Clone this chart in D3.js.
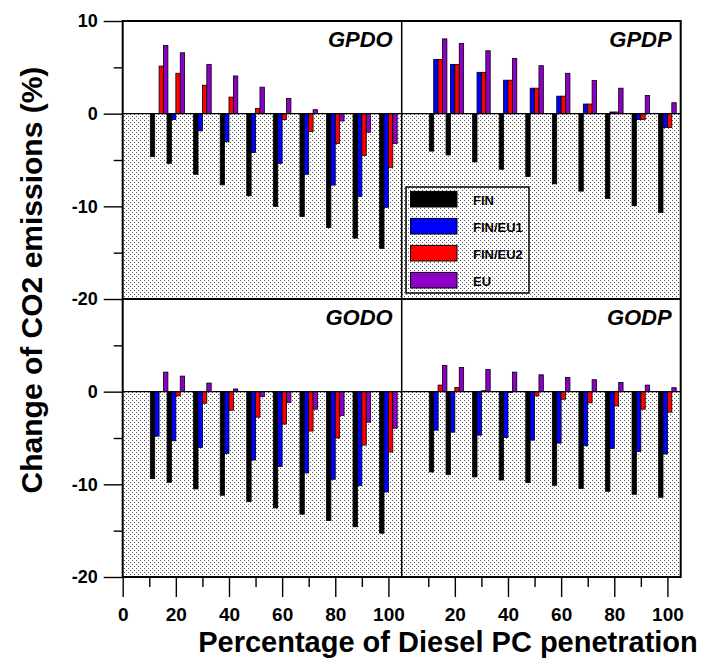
<html>
<head>
    <meta charset="utf-8">
    <script src="https://cdn.jsdelivr.net/npm/d3@7/dist/d3.min.js" type="text/javascript"></script>
    <style>
        body { margin: 0; background: #fff; }
        text { font-family: Arial, "Liberation Sans", Helvetica, sans-serif; font-weight: bold; }
    </style>
</head>
<body>
    <svg id="CANVAS" width="701" height="660"></svg>
    <script>

        // penetration levels (x) and series
        var X_VALUES = [13.7, 20, 30, 40, 50, 60, 70, 80, 90, 100];
        var SERIES = ["FIN", "FIN/EU1", "FIN/EU2", "EU"];
        var COLORS = ["#000000", "#0000ff", "#ff0000", "#8c00c8"];

        // GPDO
        var GPDO_FIN = [-4.64, -5.36, -6.54, -7.68, -8.86, -10.0, -11.1, -12.3, -13.43, -14.54];
        var GPDO_EU1 = [0, -0.64, -1.86, -3.04, -4.2, -5.36, -6.54, -7.71, -8.93, -10.11];
        var GPDO_EU2 = [5.14, 4.36, 3.07, 1.79, 0.57, -0.64, -1.93, -3.21, -4.5, -5.79];
        var GPDO_EU = [7.36, 6.57, 5.32, 4.07, 2.86, 1.64, 0.43, -0.79, -2.0, -3.21];
        // GPDP
        var GPDP_FIN = [-4.04, -4.46, -5.21, -6.0, -6.79, -7.57, -8.36, -9.14, -9.93, -10.68];
        var GPDP_EU1 = [5.86, 5.32, 4.46, 3.61, 2.75, 1.89, 1.04, 0.18, -0.64, -1.5];
        var GPDP_EU2 = [5.86, 5.32, 4.46, 3.61, 2.75, 1.89, 1.04, 0.18, -0.64, -1.5];
        var GPDP_EU = [8.07, 7.57, 6.79, 5.96, 5.18, 4.36, 3.57, 2.75, 1.96, 1.18];
        // GODO
        var GODO_FIN = [-9.39, -9.78, -10.5, -11.18, -11.86, -12.54, -13.22, -13.9, -14.58, -15.27];
        var GODO_EU1 = [-4.8, -5.3, -6.02, -6.67, -7.38, -8.06, -8.77, -9.46, -10.14, -10.82];
        var GODO_EU2 = [0, -0.46, -1.25, -2.0, -2.75, -3.5, -4.25, -5.0, -5.77, -6.52];
        var GODO_EU = [2.11, 1.68, 0.93, 0.29, -0.54, -1.18, -1.89, -2.57, -3.29, -3.94];
        // GODP
        var GODP_FIN = [-8.67, -8.96, -9.2, -9.53, -9.82, -10.1, -10.46, -10.75, -11.07, -11.4];
        var GODP_EU1 = [-4.15, -4.37, -4.69, -4.94, -5.23, -5.55, -5.84, -6.13, -6.45, -6.73];
        var GODP_EU2 = [0.71, 0.46, 0.1, -0.1, -0.46, -0.82, -1.21, -1.54, -1.89, -2.21];
        var GODP_EU = [2.82, 2.61, 2.39, 2.11, 1.82, 1.54, 1.29, 1.0, 0.71, 0.43];

        var X_MAJOR = [0, 20, 40, 60, 80, 100];
        var X_MINOR = [10, 30, 50, 70, 90];
        var Y_TOP_LABELS = [10, 0, -10, -20];
        var Y_BOTTOM_LABELS = [0, -10, -20];
        var Y_MINOR = [5, -5, -15];

        var PANELS = [
            { name: "GPDO", col: 0, row: 0, data: [GPDO_FIN, GPDO_EU1, GPDO_EU2, GPDO_EU] },
            { name: "GPDP", col: 1, row: 0, data: [GPDP_FIN, GPDP_EU1, GPDP_EU2, GPDP_EU] },
            { name: "GODO", col: 0, row: 1, data: [GODO_FIN, GODO_EU1, GODO_EU2, GODO_EU] },
            { name: "GODP", col: 1, row: 1, data: [GODP_FIN, GODP_EU1, GODP_EU2, GODP_EU] }
        ];

        var LEFT = 122.7, TOP = 21;
        var PW = 279, PH = 278;
        var BAR_W = 4.4;

        var svg = d3.select("#CANVAS");

        var defs = svg.append("defs");
        var pat = defs.append("pattern")
            .attr("id", "dots")
            .attr("patternUnits", "userSpaceOnUse")
            .attr("width", 4).attr("height", 4);
        pat.append("rect").attr("width", 4).attr("height", 4).attr("fill", "#fff");
        pat.append("rect").attr("x", 0).attr("y", 0).attr("width", 1).attr("height", 1).attr("fill", "#555");
        pat.append("rect").attr("x", 2).attr("y", 2).attr("width", 1).attr("height", 1).attr("fill", "#555");

        function xScale(col) {
            var x0 = LEFT + col * PW;
            return d3.scaleLinear().domain([0, 105]).range([x0, x0 + PW]);
        }
        function yScale(row) {
            var y0 = TOP + row * PH;
            return d3.scaleLinear().domain([-20, 10]).range([y0 + PH, y0]);
        }

        PANELS.forEach(function (p) {
            var x = xScale(p.col), y = yScale(p.row);
            var G = svg.append("g").attr("class", "PANEL");

            G.append("rect")
                .attr("x", x(0)).attr("y", y(10))
                .attr("width", x(105) - x(0)).attr("height", y(0) - y(10))
                .attr("fill", "#fff");
            G.append("rect")
                .attr("x", x(0)).attr("y", y(0))
                .attr("width", x(105) - x(0)).attr("height", y(-20) - y(0))
                .attr("fill", "url(#dots)");

            p.data.forEach(function (vals, si) {
                G.selectAll("rect.S" + si)
                    .data(vals)
                    .enter().append("rect")
                    .attr("class", "S" + si)
                    .attr("x", function (d, i) { return x(X_VALUES[i]) - 2 * BAR_W + si * BAR_W; })
                    .attr("y", function (d) { return y(Math.max(0, d)); })
                    .attr("width", BAR_W)
                    .attr("height", function (d) { return Math.abs(y(d) - y(0)); })
                    .attr("fill", COLORS[si])
                    .attr("stroke", "#000")
                    .attr("stroke-width", 0.8);
            });

            G.append("line")
                .attr("x1", x(0)).attr("x2", x(105))
                .attr("y1", y(0)).attr("y2", y(0))
                .attr("stroke", "#000").attr("stroke-width", 1.2);

            G.append("text")
                .attr("x", x(105) - 9).attr("y", y(10) + 26)
                .attr("text-anchor", "end")
                .style("font-size", "22px")
                .style("font-style", "italic")
                .text(p.name);
        });

        // frame
        var xl = xScale(0), xr = xScale(1), yt = yScale(0), yb = yScale(1);
        svg.append("rect")
            .attr("x", xl(0)).attr("y", yt(10))
            .attr("width", xr(105) - xl(0)).attr("height", yb(-20) - yt(10))
            .attr("fill", "none").attr("stroke", "#000").attr("stroke-width", 2);
        svg.append("line")
            .attr("x1", xr(0)).attr("x2", xr(0)).attr("y1", yt(10)).attr("y2", yb(-20))
            .attr("stroke", "#000").attr("stroke-width", 1.5);
        svg.append("line")
            .attr("x1", xl(0)).attr("x2", xr(105)).attr("y1", yt(-20)).attr("y2", yt(-20))
            .attr("stroke", "#000").attr("stroke-width", 2);

        var plain = function (d) { return String(d); };

        // y axes
        function yAxis(y, vals, size, labels) {
            var g = svg.append("g").attr("transform", "translate(" + LEFT + ",0)")
                .call(d3.axisLeft(y).tickValues(vals).tickSize(size).tickPadding(6)
                    .tickFormat(labels ? plain : ""));
            g.select(".domain").remove();
            g.selectAll("line").attr("stroke", "#000").attr("stroke-width", 1.4);
            g.selectAll("text").style("font-size", "18px").attr("fill", "#000");
            return g;
        }
        yAxis(yt, Y_TOP_LABELS, 19, true);
        yAxis(yt, Y_MINOR, 9, false);
        yAxis(yb, Y_BOTTOM_LABELS, 19, true);
        yAxis(yb, Y_MINOR, 9, false);

        // x axes
        function xAxis(x, vals, size, labels) {
            var g = svg.append("g").attr("transform", "translate(0," + yb(-20) + ")")
                .call(d3.axisBottom(x).tickValues(vals).tickSize(size).tickPadding(11)
                    .tickFormat(labels ? plain : ""));
            g.select(".domain").remove();
            g.selectAll("line").attr("stroke", "#000").attr("stroke-width", 1.4);
            g.selectAll("text").style("font-size", "19px").attr("fill", "#000");
            return g;
        }
        xAxis(xl, X_MAJOR, 20, true);
        xAxis(xl, X_MINOR, 10, false);
        xAxis(xr, X_MAJOR.slice(1), 20, true);
        xAxis(xr, X_MINOR, 10, false);

        // titles
        svg.append("text")
            .attr("transform", "translate(42,280) rotate(-90)")
            .attr("text-anchor", "middle")
            .style("font-size", "30px")
            .text("Change of CO2 emissions (%)");
        svg.append("text")
            .attr("x", 448).attr("y", 652)
            .attr("text-anchor", "middle")
            .style("font-size", "29px")
            .text("Percentage of Diesel PC penetration");

        // legend
        var LG = svg.append("g").attr("transform", "translate(" + (xr(0) + 4.3) + "," + (yt(10) + 166) + ")");
        LG.append("rect")
            .attr("width", 123).attr("height", 106)
            .attr("fill", "none").attr("stroke", "#000").attr("stroke-width", 1.5);
        var LI = LG.selectAll("g.ITEM").data(SERIES).enter().append("g")
            .attr("class", "ITEM")
            .attr("transform", function (d, i) { return "translate(0," + (4.4 + i * 27) + ")"; });
        LI.append("rect")
            .attr("x", 4.5).attr("width", 46.5).attr("height", 15.6)
            .attr("fill", function (d, i) { return COLORS[i]; })
            .attr("stroke", "#000").attr("stroke-width", 1);
        LI.append("text")
            .attr("x", 67).attr("y", 13.5)
            .style("font-size", "13px")
            .text(function (d) { return d; });

    </script>
</body>
</html>
